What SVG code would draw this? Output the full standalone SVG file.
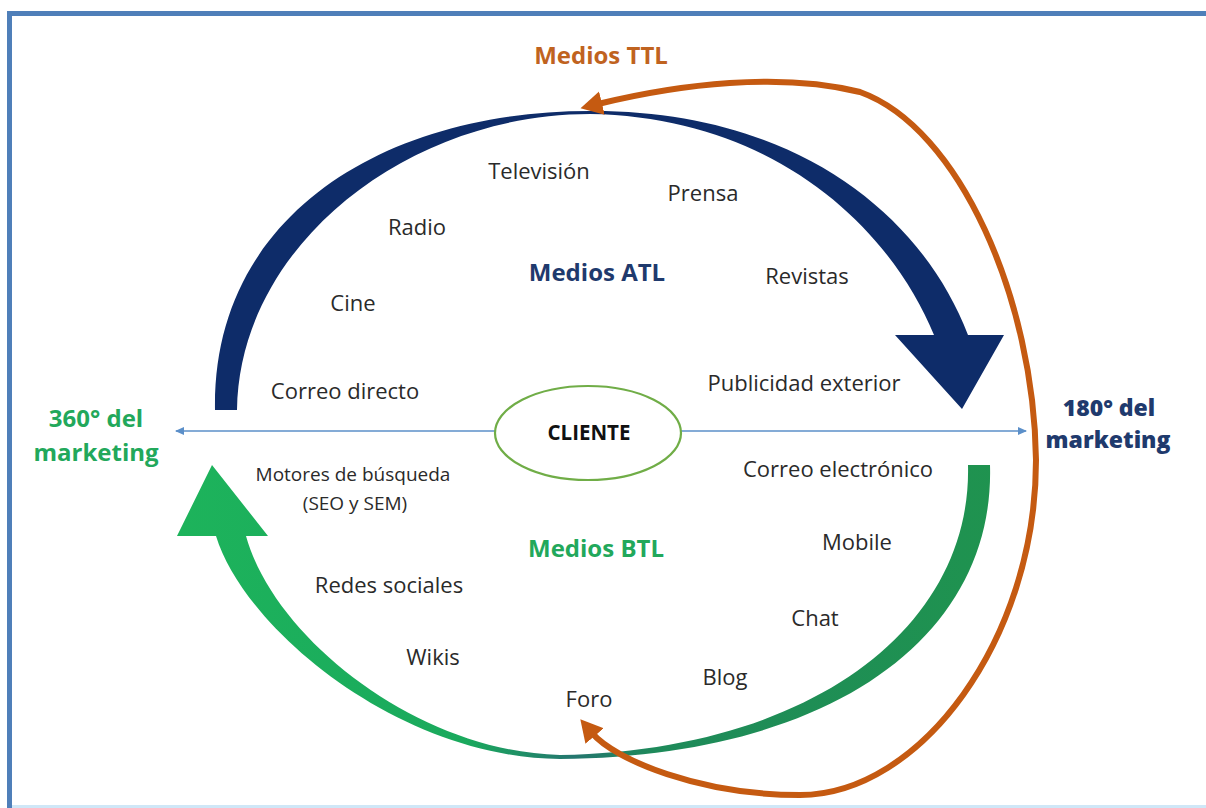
<svg xmlns="http://www.w3.org/2000/svg" width="1206" height="808" viewBox="0 0 1206 808">
  <defs>
    <style>
      .item { font-family: "Open Sans", "Noto Sans", sans-serif; font-size: 22px; fill: #2a2a2a; }
      .small { font-size: 19px; }
      .head { font-family: "Open Sans", "Noto Sans", sans-serif; font-weight: 700; font-size: 24px; }
      .side { font-family: "Open Sans", "Noto Sans", sans-serif; font-weight: 800; font-size: 23px; }
      .atl { fill: #1f3a6d; }
      .btl { fill: #22a85b; }
      .ttl { fill: #c0631f; }
      .axis { stroke: #5b8fc9; stroke-width: 1.4; fill: none; }
      .ttl-line { stroke: #c55a11; stroke-width: 6; fill: none; }
    </style>
    <linearGradient id="btlGrad" gradientUnits="userSpaceOnUse" x1="180" y1="0" x2="1000" y2="0">
      <stop offset="0" stop-color="#1db35b"/>
      <stop offset="0.35" stop-color="#1aa95d"/>
      <stop offset="0.48" stop-color="#24766f"/>
      <stop offset="0.58" stop-color="#1e8a5a"/>
      <stop offset="1" stop-color="#1f934f"/>
    </linearGradient>
    <marker id="axisHead" markerUnits="userSpaceOnUse" markerWidth="10" markerHeight="10" refX="8" refY="4" orient="auto-start-reverse">
      <path d="M0,0 L9,4 L0,8 z" fill="#5b8fc9"/>
    </marker>
    <marker id="ttlHead" markerUnits="userSpaceOnUse" markerWidth="26" markerHeight="26" refX="4" refY="12" orient="auto-start-reverse">
      <path d="M0,0 L22,12 L0,24 z" fill="#c55a11"/>
    </marker>
  </defs>

  <rect width="1206" height="808" fill="#ffffff"/>

  <!-- page frame -->
  <g id="frame">
    <line x1="7" y1="13.5" x2="1206" y2="13.5" stroke="#4f7fb9" stroke-width="5"/>
    <line x1="9.5" y1="11" x2="9.5" y2="808" stroke="#4f7fb9" stroke-width="5"/>
    <line x1="12" y1="806.5" x2="1206" y2="806.5" stroke="#cfe7f7" stroke-width="3"/>
  </g>

  <!-- ATL curved arrow (above the axis) -->
  <g id="atl-arrow">
    <path fill="#0e2c69" d="M215,410 C212,215 385,111 590,111 C790,110 920,210 968,335 L1004,335 L962,409 L895,335 L934,335 C890,228 775,117 590,114 C408,114 239,245 237,410 Z"/>
  </g>

  <!-- BTL curved arrow (below the axis) -->
  <g id="btl-arrow">
    <path fill="url(#btlGrad)" d="M968,465 L990,465 C995,635 835,756 560,759 C400,758 245,630 216,536 L177,536 L212,465 L268,536 L246,536 C275,640 420,752 560,755 C815,750 972,625 968,465 Z"/>
  </g>

  <!-- connectors -->
  <g id="connectors">
    <line class="axis" x1="496" y1="431" x2="176" y2="431" marker-end="url(#axisHead)"/>
    <line class="axis" x1="680" y1="431" x2="1026" y2="431" marker-end="url(#axisHead)"/>
    <path class="ttl-line" d="M592,733 C615,760 700,795 800,795 C920,795 1036,640 1036,460 C1034,300 960,128 860,92 C780,72 680,84 598,104" marker-start="url(#ttlHead)" marker-end="url(#ttlHead)"/>
  </g>

  <!-- central node -->
  <g id="cliente">
    <ellipse cx="588" cy="433" rx="93" ry="47" fill="#ffffff" stroke="#70ad47" stroke-width="2.2"/>
    <text x="589" y="440" text-anchor="middle" font-family="Open Sans, Noto Sans, sans-serif" font-weight="700" font-size="20.5" fill="#111111">CLIENTE</text>
  </g>

  <!-- group titles -->
  <g id="titles">
    <text class="head ttl" x="601" y="64" text-anchor="middle">Medios TTL</text>
    <text class="head atl" x="597" y="281" text-anchor="middle">Medios ATL</text>
    <text class="head btl" x="596" y="557" text-anchor="middle">Medios BTL</text>
  </g>

  <g id="side-360">
    <text class="head btl" x="96" y="427" text-anchor="middle">360° del</text>
    <text class="head btl" x="96" y="461" text-anchor="middle">marketing</text>
  </g>

  <g id="side-180">
    <text class="side atl" x="1109" y="416" text-anchor="middle">180° del</text>
    <text class="side atl" x="1108" y="448" text-anchor="middle">marketing</text>
  </g>

  <!-- ATL media -->
  <g id="atl-items">
    <text class="item" x="539" y="179" text-anchor="middle">Televisión</text>
    <text class="item" x="703" y="201" text-anchor="middle">Prensa</text>
    <text class="item" x="417" y="235" text-anchor="middle">Radio</text>
    <text class="item" x="807" y="284" text-anchor="middle">Revistas</text>
    <text class="item" x="353" y="311" text-anchor="middle">Cine</text>
    <text class="item" x="345" y="399" text-anchor="middle">Correo directo</text>
    <text class="item" x="804" y="391" text-anchor="middle">Publicidad exterior</text>
  </g>

  <!-- BTL media -->
  <g id="btl-items">
    <text class="item small" x="353" y="481" text-anchor="middle">Motores de búsqueda</text>
    <text class="item small" x="355" y="510" text-anchor="middle">(SEO y SEM)</text>
    <text class="item" x="838" y="477" text-anchor="middle">Correo electrónico</text>
    <text class="item" x="857" y="550" text-anchor="middle">Mobile</text>
    <text class="item" x="389" y="593" text-anchor="middle">Redes sociales</text>
    <text class="item" x="815" y="626" text-anchor="middle">Chat</text>
    <text class="item" x="433" y="665" text-anchor="middle">Wikis</text>
    <text class="item" x="725" y="685" text-anchor="middle">Blog</text>
    <text class="item" x="589" y="707" text-anchor="middle">Foro</text>
  </g>
</svg>
